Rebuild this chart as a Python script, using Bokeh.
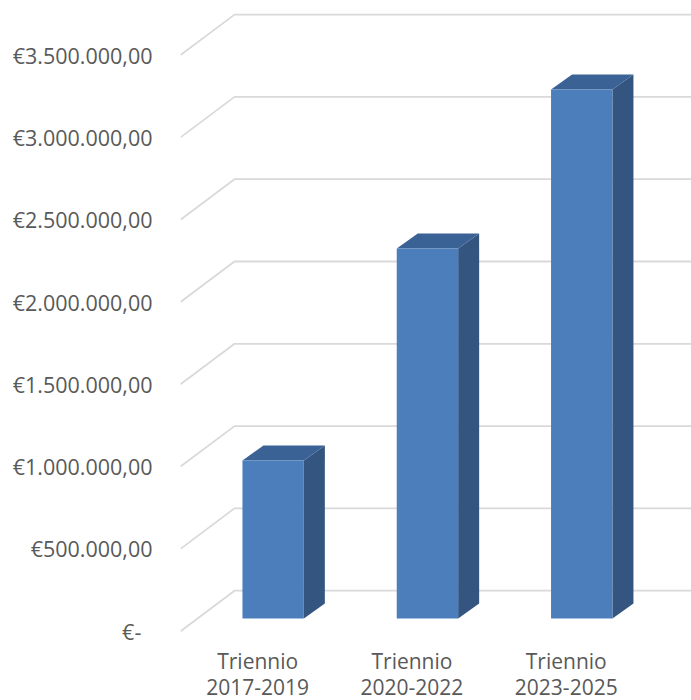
from bokeh.plotting import figure
from bokeh.models import LinearAxis, FixedTicker, Range1d
from bokeh.core.properties import value
from bokeh.embed import file_html
from bokeh.resources import INLINE

top_labels = ["Triennio", "Triennio", "Triennio"]
periods = ["2017-2019", "2020-2022", "2023-2025"]
values = [960000, 2248000, 3214000]
tick_values = [0, 500000, 1000000, 1500000, 2000000, 2500000, 3000000, 3500000]
tick_labels = ["€-\u00a0\u00a0", "€500.000,00", "€1.000.000,00", "€1.500.000,00",
               "€2.000.000,00", "€2.500.000,00", "€3.000.000,00", "€3.500.000,00"]

FRONT, SIDE, TOP = "#4c7ebb", "#34557f", "#3b6295"
GRID, TEXT = "#d9d9d9", "#595959"
FONT = "Open Sans"
FS = "21.5px"
FS_X = "21px"

PX_X = 154.3          # pixels per category slot
PX_Y = 82.3 / 500000  # pixels per euro
def dx(px): return px / PX_X
def dy(px): return px / PX_Y

p = figure(frame_width=511, frame_height=700, output_backend="svg", toolbar_location=None,
           x_range=Range1d(0, 511 / PX_X), y_range=Range1d(dy(-69.3), dy(630.7)),
           x_axis_location=None, y_axis_location=None,
           min_border_left=180, min_border_right=0, min_border_top=0, min_border_bottom=0,
           background_fill_color=None, border_fill_color="white", outline_line_color=None)
p.grid.visible = False

# walls and floor lines
x_end = 511 / PX_X
for v in tick_values:
    p.line([0, dx(54), x_end], [v, v + dy(40.5), v + dy(40.5)], line_color=GRID, line_width=1.8)

# 3-D columns
half, off_x, off_y, dep_x, dep_y = dx(30.7), dx(15.5), dy(12.7), dx(21), dy(15)
for i, v in enumerate(values):
    c = i + 0.5 + off_x
    l, r, b, t = c - half, c + half, off_y, v + off_y
    p.patch([r, r + dep_x, r + dep_x, r], [b, b + dep_y, t + dep_y, t], fill_color=SIDE, line_color=None)
    p.patch([l, r, r + dep_x, l + dep_x], [t, t, t + dep_y, t + dep_y], fill_color=TOP, line_color=None)
    p.quad(left=l, right=r, bottom=b, top=t, fill_color=FRONT, line_color=None)

# value axis
ya = LinearAxis(ticker=FixedTicker(ticks=tick_values),
                major_label_overrides=dict(zip(tick_values, tick_labels)))
ya.axis_line_color = None
ya.major_tick_line_color = None
ya.minor_tick_line_color = None
ya.major_tick_out = 0
ya.major_label_standoff = 28
ya.major_label_text_font = FONT
ya.major_label_text_font_size = FS
ya.major_label_text_color = TEXT
p.add_layout(ya, "left")

# category labels (two lines each)
slots = [0.5, 1.5, 2.5]
for labels, px in ((top_labels, -30), (periods, -55.5)):
    p.text(x=slots, y=[dy(px)] * 3, text=labels, text_font=value(FONT), text_font_size=FS_X,
           text_color=TEXT, text_align="center", text_baseline="middle")

open("out.html", "w").write(file_html(p, INLINE))
